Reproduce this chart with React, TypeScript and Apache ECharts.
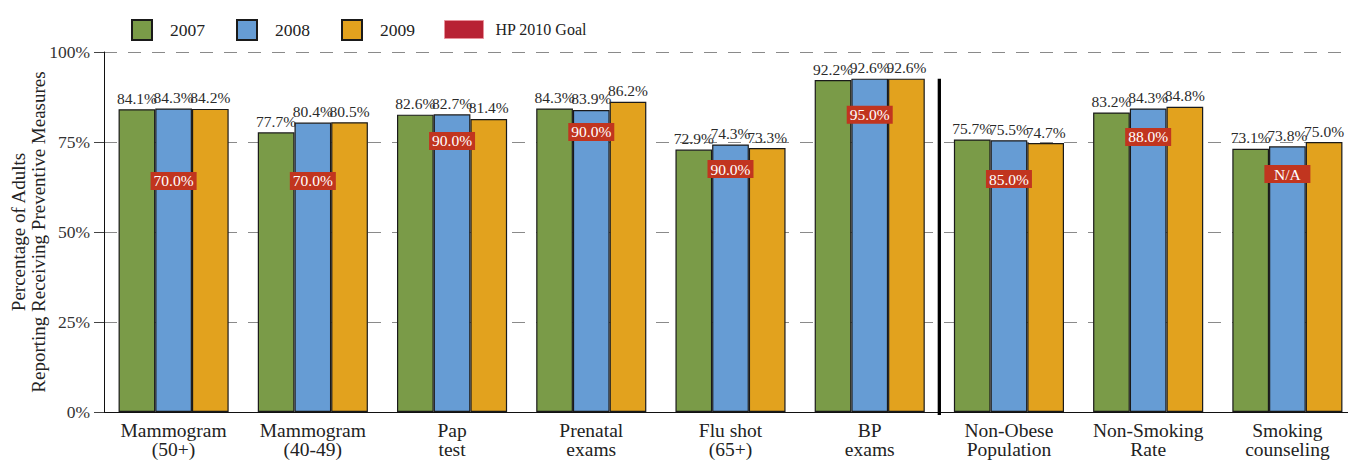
import React, { useEffect, useRef } from "react";
import * as echarts from "echarts";

const categories = [
  "Mammogram\n(50+)",
  "Mammogram\n(40-49)",
  "Pap\ntest",
  "Prenatal\nexams",
  "Flu shot\n(65+)",
  "BP\nexams",
  "Non-Obese\nPopulation",
  "Non-Smoking\nRate",
  "Smoking\ncounseling",
];
const years = ["2007", "2008", "2009"];
const values2007 = [84.1, 77.7, 82.6, 84.3, 72.9, 92.2, 75.7, 83.2, 73.1];
const values2008 = [84.3, 80.4, 82.7, 83.9, 74.3, 92.6, 75.5, 84.3, 73.8];
const values2009 = [84.2, 80.5, 81.4, 86.2, 73.3, 92.6, 74.7, 84.8, 75.0];
const hpGoalName = "HP 2010 Goal";
const hpGoal: (number | null)[] = [70.0, 70.0, 90.0, 90.0, 90.0, 95.0, 85.0, 88.0, null];
const hpGoalLabelLevel = [64.2, 64.2, 75.3, 77.8, 67.5, 82.6, 64.7, 76.4, 66.1];
const yMin = 0;
const yMax = 100;
const yInterval = 25;
const dividerAfterIndex = 5;

const FONT = "'Liberation Serif', 'Times New Roman', serif";
const barColors = ["#7a9b48", "#669cd4", "#e2a21e"];

export default function App() {
  const ref = useRef<HTMLDivElement>(null);
  useEffect(() => {
    document.body.style.margin = "0";
    if (!ref.current) return;
    const chart = echarts.init(ref.current, undefined, { renderer: "svg" });
    const seriesValues = [values2007, values2008, values2009];
    const barSeries = years.map((y, k) => ({
      name: y,
      type: "bar",
      data: seriesValues[k],
      barWidth: 36.7,
      barGap: "0%",
      itemStyle: { color: barColors[k], borderColor: "#1a1a1a", borderWidth: 1.2 },
      label: {
        show: true,
        position: "top",
        distance: 3,
        fontFamily: FONT,
        fontSize: 15.5,
        color: "#2a2a2a",
        formatter: (p: any) => p.value.toFixed(1) + "%",
      },
      z: 2,
    }));
    const goalSeries = {
      name: hpGoalName,
      type: "scatter",
      symbol: "rect",
      symbolSize: 0,
      itemStyle: { color: "#b82234", opacity: 1 },
      data: hpGoalLabelLevel.map((v, i) => [i, v]),
      label: {
        show: true,
        position: "inside",
        formatter: (p: any) => {
          const g = hpGoal[p.dataIndex];
          return g == null ? "N/A" : g.toFixed(1) + "%";
        },
        backgroundColor: "#c1351f",
        color: "#fff",
        fontFamily: FONT,
        fontSize: 15.5,
        width: 38,
        align: "center",
        lineHeight: 16,
        padding: [1, 4],
        opacity: 1,
      },
      emphasis: { disabled: true },
      z: 5,
    };
    const option: any = {
      animation: false,
      textStyle: { fontFamily: FONT },
      legend: [
        {
          data: years.map((y) => ({ name: y, icon: "rect" })),
          left: 126,
          top: 14,
          itemWidth: 20,
          itemHeight: 20,
          itemGap: 31,
          textStyle: { fontFamily: FONT, fontSize: 17.5, color: "#222", padding: [0, 0, 0, 13] },
          selectedMode: false,
        },
        {
          data: [
            {
              name: hpGoalName,
              icon: "rect",
              itemStyle: { color: "#b82234", borderColor: "#e8909a", borderWidth: 1, opacity: 1 },
            },
          ],
          left: 439,
          top: 15,
          itemWidth: 39,
          itemHeight: 18,
          textStyle: { fontFamily: FONT, fontSize: 16, color: "#222", padding: [0, 0, 0, 7] },
          selectedMode: false,
        },
      ],
      grid: { left: 104, top: 52, width: 1253, height: 360, containLabel: false, outerBoundsMode: "none" },
      xAxis: {
        type: "category",
        data: categories,
        axisLine: { lineStyle: { color: "#111", width: 1 } },
        axisTick: { show: false },
        axisLabel: {
          interval: 0,
          fontFamily: FONT,
          fontSize: 19.5,
          lineHeight: 19,
          color: "#222",
          margin: 9,
        },
      },
      yAxis: {
        type: "value",
        min: yMin,
        max: yMax,
        interval: yInterval,
        name: "Percentage of Adults\nReporting Receiving Preventive Measures",
        nameLocation: "middle",
        nameGap: 56,
        nameMoveOverlap: false,
        nameTextStyle: { fontFamily: FONT, fontSize: 19, color: "#222", lineHeight: 20 },
        axisLine: { show: true, lineStyle: { color: "#111", width: 1 } },
        axisTick: { show: true, length: 10, lineStyle: { color: "#444" } },
        axisLabel: {
          fontFamily: FONT,
          fontSize: 17.5,
          color: "#333",
          margin: 14,
          formatter: "{value}%",
        },
        splitLine: { show: true, lineStyle: { color: "#8a8a8a", type: [13, 11], width: 1.2 } },
      },
      series: [...barSeries, goalSeries],
    };
    chart.setOption(option);

    const xa = chart.convertToPixel({ xAxisIndex: 0 }, dividerAfterIndex) as number;
    const xb = chart.convertToPixel({ xAxisIndex: 0 }, dividerAfterIndex + 1) as number;
    const lineX = (xa + xb) / 2;
    const topVal = Math.max(values2007[dividerAfterIndex], values2008[dividerAfterIndex], values2009[dividerAfterIndex]);
    const yTop = chart.convertToPixel({ yAxisIndex: 0 }, topVal) as number;
    const yBottom = chart.convertToPixel({ yAxisIndex: 0 }, yMin) as number;
    chart.setOption({
      graphic: [
        {
          type: "line",
          shape: { x1: lineX, y1: yTop, x2: lineX, y2: yBottom + 3 },
          style: { stroke: "#000", lineWidth: 3.3 },
          z: 10,
        },
      ],
    });
    return () => chart.dispose();
  }, []);
  return <div ref={ref} style={{ width: 1348, height: 460 }} />;
}
